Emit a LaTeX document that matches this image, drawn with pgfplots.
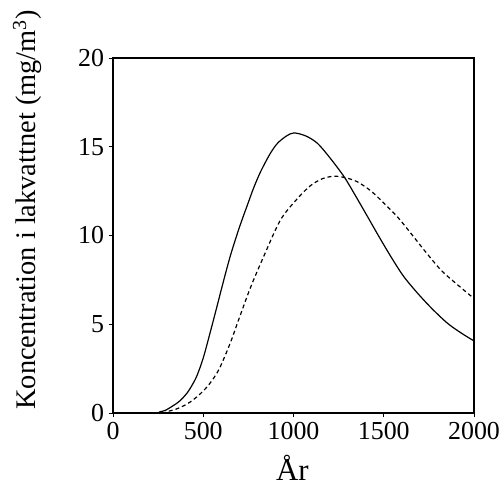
\documentclass[border=0pt]{standalone}
\usepackage{pgfplots}
\pgfplotsset{compat=1.18}
\usepackage{fontspec}
\setmainfont{Liberation Serif}
\begin{document}
\begin{tikzpicture}
\begin{axis}[
  scale only axis,
  width=361bp, height=355bp,
  xmin=0, xmax=2000, ymin=0, ymax=20,
  xtick={0,500,1000,1500,2000},
  ytick={0,5,10,15,20},
  tick align=outside,
  major tick length=4bp,
  tick style={black, line width=0.8pt},
  xtick pos=bottom, ytick pos=left,
  axis line style={line width=1.5pt},
  /pgf/number format/assume math mode=true,
  /pgf/number format/1000 sep={},
  tick label style={font=\fontsize{26}{29}\selectfont},
  xticklabel style={yshift=-2bp},
  yticklabel style={xshift=-1.5bp},
  xlabel={År},
  ylabel={Koncentration i lakvattnet (mg/m\textsuperscript{3})},
  xlabel style={font=\fontsize{31}{34}\selectfont, at={(axis description cs:0.497,-0.19)}, anchor=base},
  ylabel style={font=\fontsize{28.5}{32}\selectfont, at={(axis description cs:-0.238,0.572)}, anchor=center},
  clip=false,
]
\addplot[black, line width=1.2pt, smooth] coordinates {
(0,0) (230,0) (260,0.07) (290,0.15) (336,0.43) (370,0.68) (410,1.12) (440,1.6)
(465,2.1) (500,3.1) (540,4.6) (576,6.0) (605,7.15) (650,8.85) (700,10.45)
(744,11.7) (780,12.7) (818,13.6)
(870,14.6) (911,15.19) (960,15.6) (1003,15.78) (1070,15.6) (1133,15.19)
(1200,14.4) (1281,13.3) (1340,12.3) (1411,11.05) (1470,10.0) (1540,8.8)
(1610,7.7) (1689,6.73) (1770,5.85) (1855,5.04) (1930,4.5) (2000,4.06)
};
\addplot[black, line width=1.2pt, smooth, dash pattern=on 4bp off 3bp] coordinates {
(0,0) (260,0) (300,0.08) (350,0.22) (400,0.45) (428,0.62) (475,1.0) (521,1.47)
(560,2.0) (594,2.6) (650,3.95) (696,5.25) (761,7.05) (834,8.8) (927,10.86) (1019,12.05)
(1093,12.8) (1160,13.2) (1226,13.34) (1290,13.25) (1355,13.02) (1430,12.5)
(1503,11.8) (1580,11.0) (1652,10.1) (1730,9.1) (1818,8.04) (1900,7.3) (2000,6.45)
};
\coordinate (sw) at (rel axis cs:0,0);
\coordinate (ne) at (rel axis cs:1,1);
\end{axis}
\path ([shift={(-113bp,-76bp)}]sw) rectangle ([shift={(30bp,58bp)}]ne);
\end{tikzpicture}
\end{document}
